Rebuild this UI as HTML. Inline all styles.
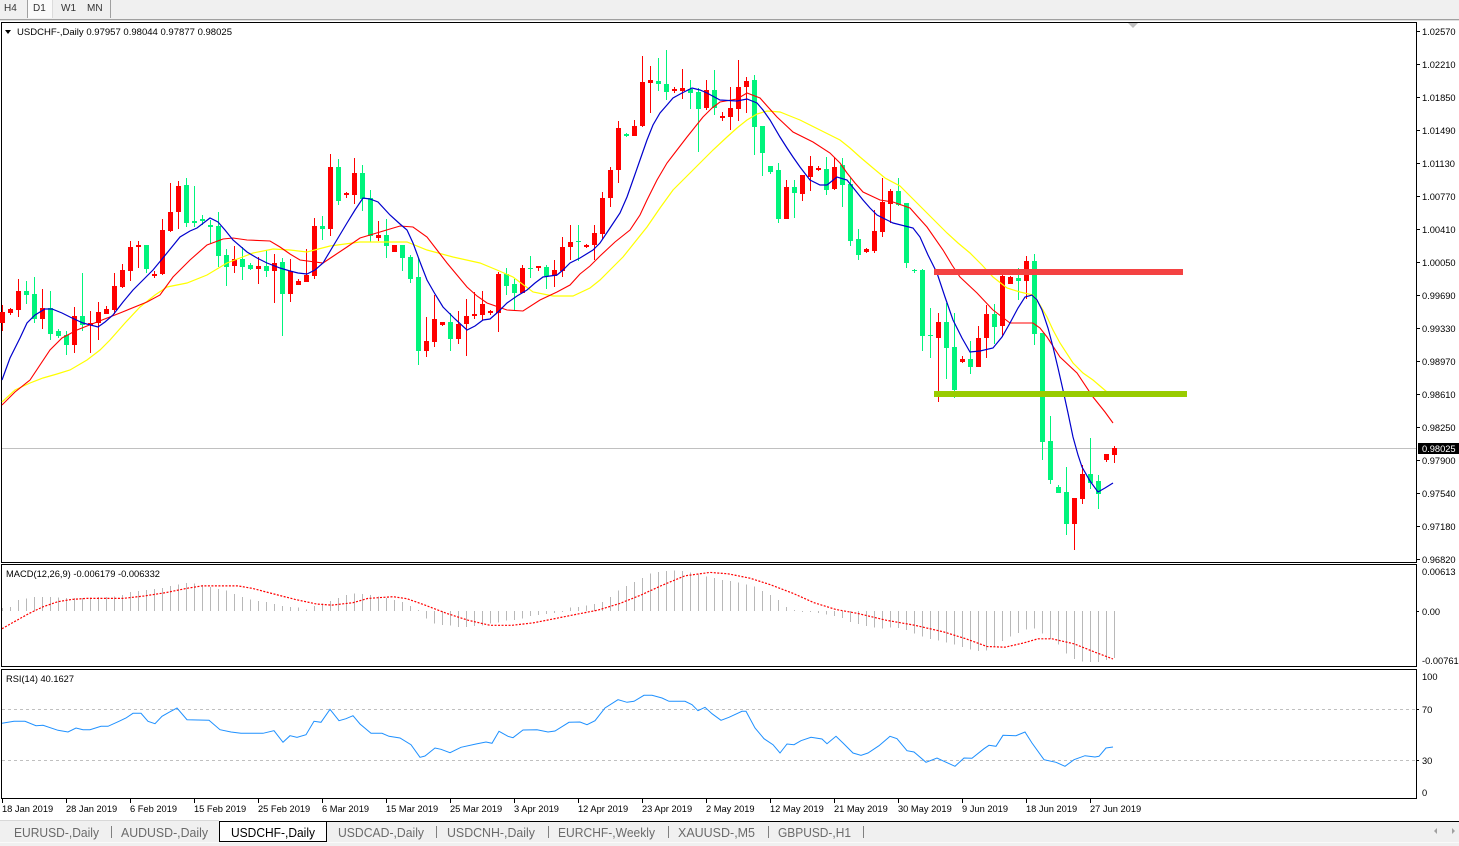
<!DOCTYPE html>
<html><head><meta charset="utf-8"><style>
html,body{margin:0;padding:0;background:#fff;}
svg{display:block;font-family:"Liberation Sans",sans-serif;}
</style></head><body>
<svg width="1459" height="846" viewBox="0 0 1459 846" xmlns="http://www.w3.org/2000/svg">
<rect x="0" y="0" width="1459" height="846" fill="#fff"/>
<!-- toolbar -->
<rect x="0" y="0" width="1459" height="19" fill="#f0f0f0"/>
<rect x="28" y="0" width="24" height="18" fill="#fafafa"/>
<line x1="0" y1="19.5" x2="1459" y2="19.5" stroke="#a0a0a0"/>
<line x1="0" y1="20.5" x2="1459" y2="20.5" stroke="#e0e0e0"/>
<line x1="27.5" y1="0" x2="27.5" y2="18" stroke="#a0a0a0"/>
<line x1="52.5" y1="0" x2="52.5" y2="18" stroke="#dcdcdc"/>
<line x1="110.5" y1="0" x2="110.5" y2="18" stroke="#a0a0a0"/>
<g font-size="10" fill="#333">
<text x="4" y="11">H4</text><text x="33" y="11">D1</text><text x="61" y="11">W1</text><text x="87" y="11">MN</text>
</g>

<!-- panel frames -->
<g fill="none" stroke="#000" shape-rendering="crispEdges">
<rect x="1.5" y="22.5" width="1415" height="540"/>
<rect x="1.5" y="564.5" width="1415" height="102"/>
<rect x="1.5" y="669.5" width="1415" height="129"/>
</g>

<!-- header -->
<polygon points="5,30 11,30 8,34" fill="#000"/>
<text x="17" y="35" font-size="9.5" textLength="215" lengthAdjust="spacingAndGlyphs" fill="#000">USDCHF-,Daily  0.97957 0.98044 0.97877 0.98025</text>
<polygon points="1128,23 1138,23 1133,28" fill="#c0c0c0"/>

<!-- current price line -->
<line x1="2" y1="448.5" x2="1416" y2="448.5" stroke="#c0c0c0" shape-rendering="crispEdges"/>

<!-- candles -->
<path shape-rendering="crispEdges" fill="#ff0000" d="M2 305h1V331h-1ZM0 312h5V323h-5Z
M10 308h1V315h-1ZM8 309h5V313h-5Z
M18 279h1V317h-1ZM16 291h5V310h-5Z
M42 289h1V329h-1ZM40 308h5V319h-5Z
M74 307h1V353h-1ZM72 316h5V345h-5Z
M90 311h1V353h-1ZM88 323h5V325h-5Z
M98 302h1V340h-1ZM96 312h5V323h-5Z
M106 306h1V314h-1ZM104 309h5V314h-5Z
M114 273h1V314h-1ZM112 286h5V310h-5Z
M122 264h1V288h-1ZM120 270h5V287h-5Z
M130 241h1V281h-1ZM128 247h5V271h-5Z
M138 241h1V268h-1ZM136 245h5V247h-5Z
M154 271h1V278h-1ZM152 274h5V276h-5Z
M162 219h1V275h-1ZM160 230h5V274h-5Z
M170 183h1V232h-1ZM168 212h5V231h-5Z
M178 181h1V229h-1ZM176 186h5V212h-5Z
M234 246h1V273h-1ZM232 259h5V266h-5Z
M258 257h1V284h-1ZM256 266h5V269h-5Z
M274 254h1V303h-1ZM272 263h5V271h-5Z
M290 259h1V302h-1ZM288 271h5V294h-5Z
M298 279h1V285h-1ZM296 281h5V285h-5Z
M306 249h1V282h-1ZM304 275h5V282h-5Z
M314 218h1V279h-1ZM312 226h5V276h-5Z
M330 154h1V236h-1ZM328 167h5V229h-5Z
M346 192h1V198h-1ZM344 193h5V195h-5Z
M354 158h1V204h-1ZM352 173h5V195h-5Z
M378 221h1V241h-1ZM376 235h5V238h-5Z
M392 245h5V252h-5Z
M426 317h1V357h-1ZM424 341h5V351h-5Z
M434 295h1V347h-1ZM432 319h5V342h-5Z
M442 322h1V326h-1ZM440 322h5V325h-5Z
M458 311h1V344h-1ZM456 324h5V339h-5Z
M466 299h1V356h-1ZM464 316h5V324h-5Z
M474 292h1V319h-1ZM472 314h5V316h-5Z
M482 291h1V320h-1ZM480 304h5V315h-5Z
M490 310h1V315h-1ZM488 311h5V313h-5Z
M498 272h1V332h-1ZM496 274h5V313h-5Z
M522 265h1V293h-1ZM520 268h5V293h-5Z
M538 266h1V271h-1ZM536 266h5V268h-5Z
M554 260h1V287h-1ZM552 270h5V276h-5Z
M562 237h1V277h-1ZM560 247h5V271h-5Z
M570 225h1V260h-1ZM568 242h5V247h-5Z
M586 244h1V248h-1ZM584 245h5V247h-5Z
M594 225h1V260h-1ZM592 233h5V245h-5Z
M602 192h1V239h-1ZM600 198h5V234h-5Z
M610 167h1V207h-1ZM608 170h5V198h-5Z
M618 121h1V183h-1ZM616 128h5V170h-5Z
M634 120h1V136h-1ZM632 126h5V136h-5Z
M642 56h1V127h-1ZM640 82h5V126h-5Z
M650 66h1V113h-1ZM648 80h5V83h-5Z
M674 87h1V93h-1ZM672 89h5V91h-5Z
M682 69h1V99h-1ZM680 88h5V91h-5Z
M706 80h1V110h-1ZM704 90h5V108h-5Z
M722 112h1V121h-1ZM720 116h5V118h-5Z
M730 87h1V130h-1ZM728 108h5V117h-5Z
M738 60h1V121h-1ZM736 87h5V109h-5Z
M746 77h1V113h-1ZM744 81h5V87h-5Z
M786 180h1V219h-1ZM784 187h5V219h-5Z
M802 175h1V201h-1ZM800 175h5V194h-5Z
M810 156h1V191h-1ZM808 166h5V177h-5Z
M818 166h1V171h-1ZM816 168h5V170h-5Z
M834 157h1V190h-1ZM832 167h5V189h-5Z
M866 248h1V253h-1ZM864 249h5V252h-5Z
M874 210h1V253h-1ZM872 231h5V251h-5Z
M882 178h1V237h-1ZM880 202h5V232h-5Z
M890 189h1V223h-1ZM888 191h5V204h-5Z
M938 313h1V402h-1ZM936 322h5V338h-5Z
M962 356h1V363h-1ZM960 359h5V362h-5Z
M978 326h1V367h-1ZM976 338h5V367h-5Z
M986 305h1V358h-1ZM984 314h5V338h-5Z
M1002 274h1V337h-1ZM1000 276h5V326h-5Z
M1010 276h1V284h-1ZM1008 277h5V284h-5Z
M1026 256h1V299h-1ZM1024 261h5V281h-5Z
M1074 498h1V550h-1ZM1072 498h5V524h-5Z
M1082 465h1V504h-1ZM1080 474h5V499h-5Z
M1106 454h1V462h-1ZM1104 454h5V460h-5Z
M1114 446h1V463h-1ZM1112 448h5V455h-5Z"/>
<path shape-rendering="crispEdges" fill="#00f47c" d="M26 281h1V304h-1ZM24 291h5V295h-5Z
M34 277h1V323h-1ZM32 294h5V319h-5Z
M50 291h1V340h-1ZM48 308h5V334h-5Z
M58 329h1V338h-1ZM56 331h5V336h-5Z
M66 331h1V355h-1ZM64 335h5V345h-5Z
M82 273h1V331h-1ZM80 316h5V325h-5Z
M146 245h1V273h-1ZM144 245h5V269h-5Z
M186 178h1V227h-1ZM184 185h5V223h-5Z
M194 186h1V227h-1ZM192 221h5V223h-5Z
M202 215h1V225h-1ZM200 219h5V221h-5Z
M210 220h1V244h-1ZM208 225h5V227h-5Z
M218 212h1V267h-1ZM216 226h5V256h-5Z
M226 249h1V286h-1ZM224 255h5V267h-5Z
M242 247h1V280h-1ZM240 259h5V267h-5Z
M250 263h1V270h-1ZM248 265h5V269h-5Z
M266 250h1V277h-1ZM264 266h5V271h-5Z
M282 258h1V336h-1ZM280 262h5V294h-5Z
M322 216h1V240h-1ZM320 226h5V229h-5Z
M338 159h1V205h-1ZM336 167h5V201h-5Z
M362 165h1V211h-1ZM360 173h5V199h-5Z
M370 190h1V242h-1ZM368 198h5V236h-5Z
M386 219h1V258h-1ZM384 235h5V246h-5Z
M402 245h1V271h-1ZM400 245h5V258h-5Z
M410 255h1V283h-1ZM408 257h5V279h-5Z
M418 258h1V365h-1ZM416 277h5V351h-5Z
M450 313h1V351h-1ZM448 322h5V339h-5Z
M506 268h1V295h-1ZM504 274h5V286h-5Z
M514 279h1V311h-1ZM512 284h5V293h-5Z
M530 256h1V278h-1ZM528 268h5V269h-5Z
M546 265h1V289h-1ZM544 267h5V276h-5Z
M578 225h1V261h-1ZM576 241h5V242h-5Z
M626 133h1V137h-1ZM624 134h5V136h-5Z
M658 58h1V91h-1ZM656 81h5V84h-5Z
M666 50h1V100h-1ZM664 84h5V92h-5Z
M690 80h1V109h-1ZM688 89h5V93h-5Z
M698 88h1V152h-1ZM696 92h5V109h-5Z
M714 70h1V115h-1ZM712 90h5V108h-5Z
M754 75h1V155h-1ZM752 80h5V127h-5Z
M762 126h1V176h-1ZM760 126h5V153h-5Z
M770 166h1V174h-1ZM768 166h5V172h-5Z
M778 163h1V223h-1ZM776 170h5V219h-5Z
M794 180h1V218h-1ZM792 187h5V193h-5Z
M826 157h1V195h-1ZM824 169h5V190h-5Z
M842 158h1V207h-1ZM840 165h5V185h-5Z
M850 177h1V246h-1ZM848 184h5V241h-5Z
M858 229h1V260h-1ZM856 239h5V255h-5Z
M898 178h1V206h-1ZM896 191h5V205h-5Z
M906 203h1V268h-1ZM904 203h5V263h-5Z
M914 269h1V273h-1ZM912 270h5V271h-5Z
M922 269h1V351h-1ZM920 270h5V336h-5Z
M930 308h1V358h-1ZM928 335h5V336h-5Z
M946 303h1V379h-1ZM944 322h5V348h-5Z
M954 313h1V398h-1ZM952 347h5V390h-5Z
M970 341h1V374h-1ZM968 359h5V367h-5Z
M994 304h1V344h-1ZM992 314h5V327h-5Z
M1018 268h1V300h-1ZM1016 278h5V281h-5Z
M1034 254h1V345h-1ZM1032 261h5V334h-5Z
M1042 333h1V460h-1ZM1040 333h5V442h-5Z
M1050 416h1V484h-1ZM1048 441h5V480h-5Z
M1058 485h1V493h-1ZM1056 487h5V493h-5Z
M1066 467h1V535h-1ZM1064 492h5V524h-5Z
M1090 438h1V489h-1ZM1088 474h5V483h-5Z
M1098 475h1V509h-1ZM1096 481h5V494h-5Z"/>

<!-- moving averages -->
<polyline fill="none" stroke="#ffff00" stroke-width="1.2" points="2,402 15,390 30,383 43,378 57,374 70,370 87,360 100,350 110,340 125,323 140,307 155,295 167,287 187,283 207,275 227,263 240,258 253,253 273,249 290,250 307,252 330,246 360,242 380,242 407,242 427,250 453,257 480,263 497,270 513,277 533,292 553,296 573,296 590,288 600,280 612,268 623,257 635,242 647,227 660,208 673,190 687,176 700,163 713,150 727,137 737,128 747,120 757,114 767,111 780,112 790,116 800,120 820,130 840,140 850,148 860,157 873,168 885,178 900,186 913,199 927,213 937,223 947,233 958,243 970,253 982,265 993,277 1007,288 1020,292 1033,295 1040,305 1047,317 1053,330 1060,343 1073,363 1083,373 1093,380 1100,386 1107,392"/>
<polyline fill="none" stroke="#ff0000" stroke-width="1.1" points="2,405 15,392 30,380 50,350 62,338 77,330 97,322 120,313 147,302 160,295 173,277 190,260 207,245 223,239 233,238 247,240 270,241 280,247 290,254 300,260 323,263 335,255 347,247 360,238 380,232 400,226 413,227 427,237 437,250 447,263 457,275 467,287 477,296 487,303 507,310 523,311 540,300 557,292 570,285 580,274 590,266 600,256 615,242 630,230 640,215 647,200 657,180 667,163 677,150 687,137 695,127 703,117 712,108 720,102 737,99 747,93 760,98 768,107 777,117 793,132 813,142 830,153 840,163 847,173 855,183 863,192 880,200 893,202 910,208 918,217 927,227 943,250 952,265 960,277 977,293 993,310 1010,323 1020,323 1033,323 1040,328 1047,337 1060,357 1077,373 1093,397 1105,412 1113,423"/>
<polyline fill="none" stroke="#0000cd" stroke-width="1.2" points="2,380 10,358 20,338 27,323 35,315 45,309 52,309 62,313 72,318 83,323 98,327 105,322 113,315 123,302 133,290 143,280 153,270 167,253 180,237 190,231 197,228 210,218 218,222 225,230 233,240 247,252 257,258 267,263 280,268 290,271 298,273 307,274 315,270 323,263 335,243 347,223 355,210 363,198 370,199 378,202 390,215 400,224 407,230 413,243 420,262 427,280 435,294 443,307 455,319 467,330 475,326 483,320 490,319 498,312 507,303 517,296 527,290 535,283 543,277 557,275 563,270 570,263 580,258 593,250 600,243 610,228 620,213 627,197 633,180 640,160 647,140 653,125 660,113 667,105 673,98 682,93 692,88 700,90 707,93 720,100 737,101 747,99 757,103 763,110 770,120 780,137 787,148 793,157 800,167 810,180 820,185 827,185 837,177 847,180 855,190 863,200 870,208 877,215 893,223 913,228 920,237 928,255 937,273 945,297 953,320 962,338 970,352 980,351 993,348 1002,337 1010,323 1018,308 1025,297 1032,295 1037,300 1042,310 1048,328 1053,347 1058,368 1063,390 1068,413 1073,437 1078,455 1082,467 1090,481 1098,492 1105,488 1113,483"/>

<!-- horizontal objects -->
<rect x="934" y="269" width="249" height="6" fill="#f44242"/>
<rect x="934" y="391" width="253" height="6" fill="#99cc00"/>

<!-- price axis -->
<path stroke="#000" shape-rendering="crispEdges" d="M1416 31.5h4M1416 64.5h4M1416 97.5h4M1416 130.5h4M1416 163.5h4M1416 196.5h4M1416 229.5h4M1416 262.5h4M1416 295.5h4M1416 328.5h4M1416 361.5h4M1416 394.5h4M1416 427.5h4M1416 460.5h4M1416 493.5h4M1416 526.5h4M1416 559.5h4M1416 611.5h3M1416 709.5h3M1416 760.5h3"/>
<g font-size="9.3" fill="#000">
<text x="1422" y="35">1.02570</text>
<text x="1422" y="68">1.02210</text>
<text x="1422" y="101">1.01850</text>
<text x="1422" y="134">1.01490</text>
<text x="1422" y="167">1.01130</text>
<text x="1422" y="200">1.00770</text>
<text x="1422" y="233">1.00410</text>
<text x="1422" y="266">1.00050</text>
<text x="1422" y="299">0.99690</text>
<text x="1422" y="332">0.99330</text>
<text x="1422" y="365">0.98970</text>
<text x="1422" y="398">0.98610</text>
<text x="1422" y="431">0.98250</text>
<text x="1422" y="464">0.97900</text>
<text x="1422" y="497">0.97540</text>
<text x="1422" y="530">0.97180</text>
<text x="1422" y="563">0.96820</text>
<text x="1422" y="575">0.00613</text>
<text x="1422" y="615">0.00</text>
<text x="1422" y="664">-0.007612</text>
<text x="1422" y="680">100</text>
<text x="1422" y="713">70</text>
<text x="1422" y="764">30</text>
<text x="1422" y="796">0</text>
</g>
<rect x="1418" y="443" width="41" height="11" fill="#000"/>
<text x="1422" y="452" font-size="9.3" fill="#fff">0.98025</text>

<!-- MACD -->
<text x="6" y="577" font-size="9.5" textLength="154" lengthAdjust="spacingAndGlyphs" fill="#000">MACD(12,26,9) -0.006179 -0.006332</text>
<path stroke="#b8b8b8" fill="none" shape-rendering="crispEdges" d="M2.5 611V608M10.5 611V607M18.5 611V600M26.5 611V598.5M34.5 611V597M42.5 611V597M50.5 611V597M58.5 611V597.5M66.5 611V598M74.5 611V598M82.5 611V598M90.5 611V597.5M98.5 611V597M106.5 611V597M114.5 611V596.5M122.5 611V595M130.5 611V592M138.5 611V591M146.5 611V590M154.5 611V589M162.5 611V588M170.5 611V586M178.5 611V584.5M186.5 611V583M194.5 611V583.5M202.5 611V585M210.5 611V587M218.5 611V589M226.5 611V590.5M234.5 611V594M242.5 611V597M250.5 611V599.5M258.5 611V601M266.5 611V602M274.5 611V604M282.5 611V606M290.5 611V607M298.5 611V607.5M306.5 611V609.5M314.5 611V606M322.5 611V603.5M330.5 611V601M338.5 611V598M346.5 611V595M354.5 611V593.5M362.5 611V594M370.5 611V595M378.5 611V596.5M386.5 611V598M394.5 611V600M402.5 611V602M410.5 611V606M418.5 611V610M426.5 611V618.5M434.5 611V623.5M442.5 611V625M450.5 611V625.5M458.5 611V627M466.5 611V627M474.5 611V626M482.5 611V625.5M490.5 611V623.5M498.5 611V622.5M506.5 611V620.5M514.5 611V620M522.5 611V618.5M530.5 611V616M538.5 611V615M546.5 611V614M554.5 611V613M562.5 611V612M570.5 611V607.5M578.5 611V607M586.5 611V605.5M594.5 611V604M602.5 611V602M610.5 611V597M618.5 611V590.5M626.5 611V586M634.5 611V582M642.5 611V578M650.5 611V573.5M658.5 611V572M666.5 611V571M674.5 611V570.5M682.5 611V571M690.5 611V572.5M698.5 611V574.5M706.5 611V576.5M714.5 611V578M722.5 611V580M730.5 611V581M738.5 611V582.5M746.5 611V584.5M754.5 611V586.5M762.5 611V591M770.5 611V595M778.5 611V600M786.5 611V607M794.5 611V610M802.5 611V612M810.5 611V612M818.5 611V613M826.5 611V614.5M834.5 611V616M842.5 611V618M850.5 611V622M858.5 611V624M866.5 611V626M874.5 611V627.5M882.5 611V628.5M890.5 611V627.5M898.5 611V628M906.5 611V630M914.5 611V633.5M922.5 611V636.5M930.5 611V639M938.5 611V640.5M946.5 611V642.5M954.5 611V644.5M962.5 611V647M970.5 611V649.5M978.5 611V651M986.5 611V650.5M994.5 611V647M1002.5 611V641M1010.5 611V636.5M1018.5 611V633M1026.5 611V629.5M1034.5 611V628.5M1042.5 611V633.5M1050.5 611V639M1058.5 611V644.5M1066.5 611V653.5M1074.5 611V659M1082.5 611V661.5M1090.5 611V662M1098.5 611V662M1106.5 611V660M1114.5 611V658"/>
<polyline fill="none" stroke="#ff0000" stroke-width="1.2" stroke-dasharray="2 1.5" points="2,628.7 14,621.9 29,613.5 43,606.8 58,601.7 72,599.4 86,598.4 123,598.4 144,596 166,592.6 187,588.3 202,585.9 238,585.9 252,588.3 274,594 295,599.4 317,604.1 332,605.1 353,602.7 368,598.4 393,596.7 407,598.7 425,605.1 447,613.5 468,620.2 490,625.3 512,625.3 533,622.9 555,618.6 577,614.2 598,610.1 620,603.4 641,595 663,584.9 685,575.8 710,572.4 728,573.8 750,578.2 771,584.9 793,593.3 814,602.7 836,609.5 858,613.5 886,620.2 915,625.3 944,632 966,638.8 987,646.5 1005,647.2 1023,643.1 1038,638.8 1052,638.8 1074,643.8 1095,652.2 1113,659"/>

<!-- RSI -->
<text x="6" y="682" font-size="9.5" textLength="68" lengthAdjust="spacingAndGlyphs" fill="#000">RSI(14) 40.1627</text>
<line x1="2" y1="709.5" x2="1416" y2="709.5" stroke="#c0c0c0" stroke-dasharray="3 3"/>
<line x1="2" y1="760.5" x2="1416" y2="760.5" stroke="#c0c0c0" stroke-dasharray="3 3"/>
<polyline fill="none" stroke="#1e90ff" stroke-width="1" points="2,723.3 14,721.3 25,721.3 36,725.7 43,725.3 58,730.3 68,732 76,728 83,729.7 90,729.7 101,726.3 108,726.3 119,721.3 126,718 133,713.3 141,713.3 148,721.3 155,723.7 162,716.3 169,712.3 177,708 187,719.7 209,720.3 220,729.7 231,732 241,733.3 263,733.3 274,730.7 283,742.3 290,735.7 297,737.3 306,734.7 314,721.3 321,722.3 330,709.3 339,720.7 346,718.7 353,715.7 360,724 371,733.3 382,733.3 389,736.3 400,738 411,744.7 420,757.3 425,756 435,748 441,749.3 450,752.7 461,747.3 476,744 486,742 492,743.3 499,731.3 508,736.3 513,737.7 523,730 537,729.7 548,732 555,731 569,722.3 580,722 587,724.7 595,720.7 605,708 618,699.7 627,702.3 634,701.3 644,695.3 652,695.3 662,698 669,701.3 685,701.3 692,704.7 698,710.7 705,707.3 712,713.7 721,720.3 729,717.3 742,711.3 746,711.3 755,728 764,738.7 773,744.7 780,753 787,744 794,744.7 801,740.7 811,737.3 822,739 827,743.7 836,736.3 843,743 853,753 861,755.3 868,753 879,745.7 890,736.3 897,738.7 907,750.7 914,752 926,762.3 937,758 944,761.3 955,766.3 964,758 972,758.3 984,748.7 989,745.3 996,746.3 1003,735.3 1016,735.7 1025,732 1032,743 1044,759.7 1056,762.3 1065,766.3 1074,759.7 1085,755.7 1095,757 1099,756.3 1106,748 1113,747"/>

<!-- date axis -->
<path stroke="#000" shape-rendering="crispEdges" d="M2.5 799v4M66.5 799v4M130.5 799v4M194.5 799v4M258.5 799v4M322.5 799v4M386.5 799v4M450.5 799v4M514.5 799v4M578.5 799v4M642.5 799v4M706.5 799v4M770.5 799v4M834.5 799v4M898.5 799v4M962.5 799v4M1026.5 799v4M1090.5 799v4"/>
<g font-size="9.3" fill="#000">
<text x="2" y="812">18 Jan 2019</text>
<text x="66" y="812">28 Jan 2019</text>
<text x="130" y="812">6 Feb 2019</text>
<text x="194" y="812">15 Feb 2019</text>
<text x="258" y="812">25 Feb 2019</text>
<text x="322" y="812">6 Mar 2019</text>
<text x="386" y="812">15 Mar 2019</text>
<text x="450" y="812">25 Mar 2019</text>
<text x="514" y="812">3 Apr 2019</text>
<text x="578" y="812">12 Apr 2019</text>
<text x="642" y="812">23 Apr 2019</text>
<text x="706" y="812">2 May 2019</text>
<text x="770" y="812">12 May 2019</text>
<text x="834" y="812">21 May 2019</text>
<text x="898" y="812">30 May 2019</text>
<text x="962" y="812">9 Jun 2019</text>
<text x="1026" y="812">18 Jun 2019</text>
<text x="1090" y="812">27 Jun 2019</text>
</g>

<!-- tab bar -->
<rect x="0" y="821" width="1459" height="25" fill="#f0f0f0"/>
<line x1="0" y1="820.5" x2="219" y2="820.5" stroke="#d8d8d8"/>
<line x1="219" y1="821.5" x2="1459" y2="821.5" stroke="#000"/>
<line x1="0" y1="842.5" x2="1459" y2="842.5" stroke="#fafafa"/>
<rect x="219.5" y="821.5" width="107" height="20" fill="#fff" stroke="#000"/>
<path stroke="#808080" shape-rendering="crispEdges" d="M111.5 826v12M436.5 826v12M548.5 826v12M668.5 826v12M768.5 826v12M863.5 826v12"/>
<g font-size="12.5" fill="#6a6a6a">
<text x="14" y="837" textLength="85" lengthAdjust="spacingAndGlyphs">EURUSD-,Daily</text>
<text x="121" y="837" textLength="87" lengthAdjust="spacingAndGlyphs">AUDUSD-,Daily</text>
<text x="231" y="837" textLength="84" lengthAdjust="spacingAndGlyphs" fill="#000">USDCHF-,Daily</text>
<text x="338" y="837" textLength="86" lengthAdjust="spacingAndGlyphs">USDCAD-,Daily</text>
<text x="447" y="837" textLength="88" lengthAdjust="spacingAndGlyphs">USDCNH-,Daily</text>
<text x="558" y="837" textLength="97" lengthAdjust="spacingAndGlyphs">EURCHF-,Weekly</text>
<text x="678" y="837" textLength="77" lengthAdjust="spacingAndGlyphs">XAUUSD-,M5</text>
<text x="778" y="837" textLength="73" lengthAdjust="spacingAndGlyphs">GBPUSD-,H1</text>
</g>
<polygon points="1437,828 1437,834 1434,831" fill="#a0a0a0"/>
<polygon points="1452,828 1452,834 1455,831" fill="#a0a0a0"/>
</svg>
</body></html>
